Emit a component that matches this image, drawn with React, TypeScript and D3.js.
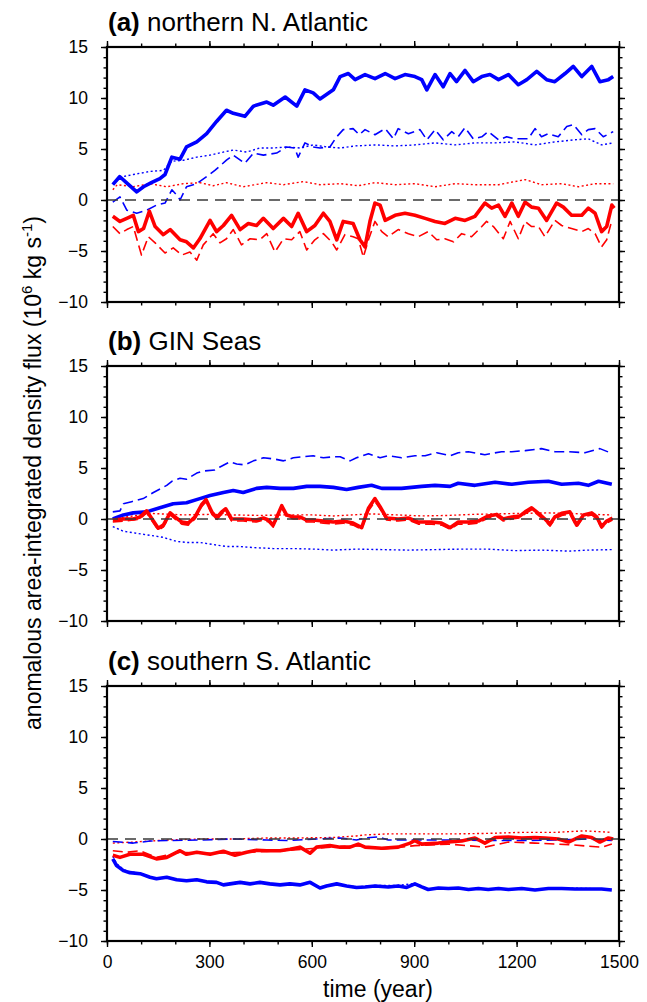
import React, { useRef, useEffect } from 'react';
import * as d3 from 'd3';

type Pt = [number, number];

// ---- (a) northern N. Atlantic : [year, flux] ----
const aBlueSolid: Pt[] = [[17,1.5],[37,2.3],[60,1.6],[87,0.8],[107,1.3],[130,1.7],[155,2.1],[170,2.5],[190,4.2],[214,4.0],[233,5.2],[263,5.7],[292,6.5],[321,7.7],[350,8.8],[370,8.5],[404,8.2],[429,9.2],[468,9.6],[487,9.3],[522,10.1],[556,9.2],[580,10.8],[604,10.5],[624,9.9],[663,10.8],[683,12.1],[707,12.4],[727,11.8],[756,12.3],[785,11.9],[815,12.4],[844,11.9],[873,12.3],[902,12.1],[922,11.8],[937,10.8],[961,12.3],[985,11.1],[1005,12.4],[1024,11.6],[1049,12.7],[1073,11.6],[1098,12.1],[1122,12.3],[1147,11.8],[1176,12.3],[1205,11.3],[1230,11.8],[1259,12.6],[1288,11.8],[1312,11.6],[1342,12.4],[1366,13.1],[1391,12.1],[1420,13.1],[1444,11.6],[1469,11.8],[1483,12.1]];
const aBlueDashed: Pt[] = [[17,-0.2],[38,0.3],[58,-1.0],[87,-1.3],[116,-1.0],[145,-0.5],[170,-0.3],[190,1.0],[209,0.3],[214,0.0],[233,1.3],[263,1.6],[292,2.3],[316,2.9],[350,3.9],[370,4.4],[404,3.6],[429,4.6],[458,4.4],[497,4.6],[526,5.2],[550,5.1],[560,4.2],[580,5.6],[604,5.2],[624,5.1],[653,5.2],[673,6.2],[692,6.9],[721,7.0],[739,6.4],[756,6.9],[785,6.4],[815,7.0],[839,6.0],[853,7.0],[883,6.5],[917,6.9],[937,5.9],[961,6.9],[985,5.9],[1010,6.7],[1029,6.2],[1049,7.1],[1073,6.0],[1098,6.2],[1117,6.7],[1147,5.9],[1171,6.2],[1195,6.0],[1234,6.0],[1254,7.0],[1273,6.2],[1293,6.5],[1322,6.2],[1347,7.2],[1366,7.4],[1391,6.4],[1410,6.9],[1430,7.0],[1454,6.2],[1483,6.7]];
const aBlueDotted: Pt[] = [[17,1.6],[48,2.3],[77,2.5],[126,2.8],[165,2.9],[190,3.8],[224,3.9],[263,4.2],[302,4.4],[341,4.7],[370,4.9],[409,4.7],[448,5.1],[487,5.1],[526,5.2],[565,5.1],[604,5.4],[644,5.2],[683,5.1],[727,5.3],[785,5.4],[844,5.3],[902,5.4],[961,5.6],[1020,5.4],[1078,5.6],[1137,5.6],[1195,5.7],[1254,5.4],[1312,5.7],[1371,5.9],[1410,6.0],[1449,5.4],[1483,5.6]];
const aRedSolid: Pt[] = [[17,-1.6],[38,-2.1],[58,-1.8],[77,-1.5],[92,-3.1],[107,-2.8],[124,-1.1],[141,-2.6],[165,-3.4],[185,-2.9],[214,-3.9],[233,-4.1],[253,-4.7],[272,-3.8],[302,-2.0],[321,-3.1],[341,-2.5],[365,-1.5],[390,-2.9],[414,-2.3],[438,-2.5],[458,-1.8],[487,-2.8],[517,-1.8],[541,-2.6],[560,-1.3],[585,-3.1],[609,-2.5],[634,-1.3],[653,-2.1],[673,-3.9],[692,-2.1],[721,-2.3],[741,-3.9],[756,-4.6],[771,-2.0],[785,-0.3],[800,-0.5],[815,-2.0],[844,-1.5],[873,-1.3],[902,-1.5],[932,-1.8],[961,-2.1],[990,-2.3],[1020,-1.8],[1049,-2.0],[1078,-1.6],[1107,-0.3],[1127,-0.8],[1147,-0.5],[1166,-1.6],[1186,-0.3],[1205,-1.6],[1225,-0.2],[1244,-0.7],[1264,-0.8],[1288,-2.0],[1317,-0.3],[1337,-0.7],[1361,-1.5],[1391,-1.5],[1410,-0.8],[1430,-1.3],[1449,-3.1],[1464,-2.6],[1479,-0.5],[1486,-0.8]];
const aRedDashed: Pt[] = [[17,-2.6],[38,-3.3],[58,-2.9],[77,-2.6],[101,-5.4],[121,-3.6],[141,-4.2],[170,-5.2],[194,-4.7],[219,-5.4],[243,-5.1],[263,-5.9],[282,-4.4],[311,-3.3],[331,-4.2],[350,-3.8],[370,-2.9],[394,-4.4],[419,-3.8],[448,-3.9],[468,-3.3],[492,-5.1],[517,-3.8],[541,-3.9],[565,-3.1],[585,-4.9],[609,-3.9],[634,-3.3],[658,-4.1],[673,-4.9],[697,-3.4],[721,-3.6],[736,-3.8],[751,-5.6],[766,-3.9],[785,-2.1],[805,-3.1],[824,-3.6],[853,-2.9],[883,-3.3],[912,-3.6],[941,-3.1],[966,-3.9],[990,-3.8],[1015,-4.1],[1039,-3.3],[1068,-3.6],[1098,-2.6],[1112,-2.1],[1132,-2.6],[1161,-3.8],[1181,-2.1],[1205,-3.8],[1225,-2.1],[1244,-2.6],[1264,-2.6],[1283,-3.6],[1312,-2.0],[1332,-2.5],[1361,-2.8],[1391,-3.1],[1410,-2.8],[1430,-3.3],[1449,-4.6],[1464,-3.9],[1479,-2.0]];
const aRedDotted: Pt[] = [[17,1.0],[30,1.5],[77,1.3],[126,1.6],[175,1.3],[224,1.6],[272,1.7],[311,1.4],[350,1.7],[399,1.3],[468,1.7],[517,1.5],[575,1.8],[624,1.5],[683,1.6],[736,1.4],[785,1.7],[844,1.5],[902,1.6],[961,1.3],[1020,1.6],[1078,1.5],[1147,1.5],[1225,2.0],[1273,1.5],[1332,1.6],[1381,1.3],[1430,1.6],[1483,1.6]];

// ---- (b) GIN Seas ----
const bBlueSolid: Pt[] = [[17,0.0],[48,0.4],[77,0.6],[116,0.7],[155,1.1],[194,1.5],[233,1.6],[272,2.0],[302,2.3],[341,2.6],[370,2.8],[399,2.6],[438,3.0],[468,3.1],[507,3.0],[546,3.0],[585,3.2],[624,3.2],[663,3.1],[702,2.9],[736,3.1],[775,3.3],[805,3.0],[863,3.0],[922,3.2],[961,3.3],[1005,3.2],[1029,3.5],[1078,3.3],[1137,3.6],[1186,3.4],[1234,3.6],[1293,3.7],[1332,3.4],[1381,3.5],[1410,3.3],[1440,3.7],[1479,3.4]];
const bBlueDashed: Pt[] = [[17,0.7],[38,0.8],[48,1.5],[72,1.7],[106,2.0],[136,2.6],[175,3.3],[190,3.7],[214,4.0],[233,3.9],[263,4.5],[282,4.7],[316,4.8],[331,5.1],[360,5.6],[380,5.4],[404,5.3],[429,5.7],[458,6.0],[487,5.9],[517,5.7],[546,6.0],[575,6.1],[604,6.2],[634,6.0],[663,6.1],[683,6.1],[712,5.7],[731,6.0],[766,6.4],[800,6.0],[824,6.2],[863,6.0],[902,6.2],[932,6.2],[966,6.5],[1005,6.2],[1029,6.5],[1059,6.6],[1107,6.3],[1156,6.6],[1186,6.6],[1225,6.7],[1273,6.9],[1312,6.6],[1352,6.6],[1400,6.5],[1444,6.9],[1474,6.5]];
const bBlueDotted: Pt[] = [[17,-0.75],[48,-1.2],[87,-1.4],[126,-1.6],[165,-1.8],[204,-2.2],[233,-2.3],[272,-2.3],[311,-2.5],[350,-2.7],[390,-2.7],[429,-2.8],[487,-2.9],[546,-2.9],[604,-2.95],[663,-3.05],[731,-2.95],[805,-3.0],[883,-3.05],[961,-3.0],[1039,-2.95],[1117,-2.95],[1195,-3.1],[1273,-3.05],[1352,-3.15],[1410,-3.05],[1479,-3.0]];
const bRedSolid: Pt[] = [[17,-0.1],[48,0],[77,0],[97,0.2],[116,0.8],[136,-0.2],[150,-0.9],[165,-0.6],[185,0.6],[199,0.2],[219,-0.3],[238,-0.4],[258,0.2],[277,1.4],[290,1.9],[307,0.7],[321,0.1],[336,0.7],[348,1.0],[365,0],[399,0],[438,-0.1],[458,0.1],[473,-0.1],[487,-0.6],[512,1.3],[526,0.4],[546,0.2],[565,0.2],[585,-0.1],[604,-0.1],[634,-0.2],[663,-0.3],[692,-0.2],[721,-0.4],[746,-0.85],[766,1.05],[785,2.0],[800,1.2],[819,0.1],[853,0],[883,0.1],[912,-0.3],[951,-0.3],[980,-0.4],[1005,-0.85],[1029,-0.3],[1059,-0.3],[1088,-0.2],[1117,0.3],[1142,0.45],[1161,0],[1186,0.2],[1210,0.3],[1225,0.7],[1244,1.1],[1264,0.55],[1283,0],[1298,-0.5],[1312,0.2],[1332,0.55],[1356,0.7],[1376,-0.6],[1396,0.4],[1420,0.6],[1435,0.2],[1449,-0.75],[1464,-0.2],[1481,0.1]];
const bRedDashed: Pt[] = [[17,-0.3],[48,-0.2],[77,-0.1],[97,0.0],[116,0.6],[136,-0.4],[150,-1.1],[165,-0.8],[185,0.4],[199,0.0],[219,-0.5],[238,-0.6],[258,0.0],[277,1.2],[290,1.7],[307,0.5],[321,-0.1],[336,0.5],[348,0.8],[365,-0.2],[399,-0.2],[438,-0.3],[458,-0.1],[473,-0.3],[487,-0.8],[512,1.1],[526,0.2],[546,0.0],[565,0.0],[585,-0.3],[604,-0.3],[634,-0.4],[663,-0.5],[692,-0.4],[721,-0.6],[746,-1.0],[766,0.8],[785,1.7],[800,1.0],[819,-0.1],[853,-0.2],[883,-0.1],[912,-0.5],[951,-0.5],[980,-0.6],[1005,-1.0],[1029,-0.5],[1059,-0.5],[1088,-0.4],[1117,0.1],[1142,0.25],[1161,-0.2],[1186,0.0],[1210,0.1],[1225,0.5],[1244,0.9],[1264,0.35],[1283,-0.2],[1298,-0.7],[1312,0.0],[1332,0.35],[1356,0.5],[1376,-0.8],[1396,0.2],[1420,0.4],[1435,0.0],[1449,-0.9],[1464,-0.4],[1481,-0.1]];
const bRedDotted: Pt[] = [[17,0.0],[77,0.3],[126,0.55],[224,0.4],[300,0.45],[370,0.4],[450,0.35],[517,0.4],[600,0.4],[663,0.3],[775,0.5],[850,0.4],[922,0.3],[1000,0.35],[1068,0.45],[1140,0.5],[1215,0.55],[1290,0.6],[1361,0.55],[1420,0.45],[1479,0.4]];

// ---- (c) southern S. Atlantic ----
const cBlueSolid: Pt[] = [[17,-1.95],[28,-2.6],[48,-3.1],[67,-3.3],[97,-3.4],[126,-3.75],[145,-3.9],[175,-3.75],[204,-4.0],[233,-4.1],[263,-4.0],[292,-4.2],[321,-4.25],[341,-4.5],[370,-4.35],[390,-4.25],[419,-4.4],[448,-4.25],[477,-4.4],[507,-4.5],[536,-4.4],[565,-4.5],[595,-4.25],[624,-4.8],[643,-4.6],[673,-4.4],[702,-4.6],[731,-4.75],[756,-4.7],[785,-4.6],[824,-4.7],[853,-4.6],[878,-4.75],[902,-4.4],[922,-4.7],[941,-4.95],[971,-4.8],[1000,-4.85],[1029,-4.8],[1059,-4.95],[1088,-4.85],[1117,-4.95],[1147,-4.85],[1176,-4.95],[1215,-4.85],[1254,-5.0],[1293,-4.85],[1332,-4.85],[1371,-4.9],[1410,-4.9],[1449,-4.9],[1479,-5.0]];
const cBlueDashed: Pt[] = [[17,-0.25],[77,-0.4],[126,-0.2],[175,-0.15],[272,-0.1],[370,0.0],[468,-0.1],[526,-0.15],[614,0.0],[683,0.1],[731,-0.1],[756,0.1],[795,0.2],[824,-0.1],[922,-0.1],[1020,-0.1],[1117,-0.15],[1215,-0.15],[1312,-0.1],[1410,0.0],[1479,-0.15]];
const cBlueDotted: Pt[] = [[17,-1.7],[28,-2.4],[48,-3.0],[67,-3.2],[97,-3.35],[126,-3.7],[145,-3.85],[175,-3.7],[204,-3.95],[233,-4.05],[263,-3.95],[292,-4.15],[321,-4.2],[341,-4.45],[370,-4.3],[390,-4.2],[419,-4.35],[448,-4.2],[477,-4.35],[507,-4.45],[536,-4.35],[565,-4.45],[595,-4.2],[624,-4.75],[643,-4.55],[673,-4.35],[702,-4.55],[731,-4.7],[785,-4.55],[853,-4.55],[902,-4.35],[941,-4.9],[1000,-4.8],[1059,-4.9],[1117,-4.9],[1176,-4.9],[1254,-4.95],[1332,-4.8],[1410,-4.85],[1479,-4.95]];
const cRedSolid: Pt[] = [[17,-1.6],[38,-1.8],[67,-1.5],[106,-1.5],[145,-1.95],[175,-1.8],[214,-1.15],[233,-1.5],[263,-1.3],[302,-1.5],[341,-1.2],[375,-1.6],[409,-1.3],[438,-1.1],[468,-1.15],[507,-1.15],[536,-1.0],[565,-0.8],[595,-1.4],[614,-0.8],[653,-0.65],[683,-0.8],[712,-0.8],[736,-0.5],[756,-0.8],[805,-0.9],[853,-0.8],[888,-0.4],[902,-0.15],[922,-0.5],[971,-0.4],[1000,-0.3],[1039,-0.2],[1078,0.1],[1107,-0.4],[1137,0.15],[1176,0.2],[1215,0.1],[1254,0.15],[1283,0.1],[1322,0.0],[1352,-0.3],[1391,0.3],[1420,0.15],[1444,-0.3],[1469,0.1],[1483,0.0]];
const cRedDashed: Pt[] = [[17,-1.15],[58,-1.3],[97,-1.15],[145,-1.8],[214,-1.3],[302,-1.4],[409,-1.3],[536,-1.1],[614,-0.9],[731,-0.65],[805,-1.0],[902,-0.65],[1000,-0.5],[1107,-0.8],[1176,-0.3],[1254,-0.4],[1352,-0.55],[1449,-0.8],[1479,-0.5]];
const cRedDotted: Pt[] = [[17,-0.4],[77,-0.3],[175,-0.1],[272,0.0],[370,0.0],[468,0.1],[565,0.1],[663,0.15],[731,0.3],[756,0.4],[824,0.5],[922,0.5],[1020,0.5],[1117,0.55],[1215,0.65],[1312,0.65],[1400,0.8],[1479,0.65]];

const panelLabels = ['(a)', '(b)', '(c)'];
const panelNames = ['northern N. Atlantic', 'GIN Seas', 'southern S. Atlantic'];
const yMajor = [-10, -5, 0, 5, 10, 15];
const xMajor = [0, 300, 600, 900, 1200, 1500];

const FONT = '"Liberation Sans", Arial, Helvetica, sans-serif';
const W = 647, H = 1002;
const left = 107, right = 619;
const panelTops = [47, 366, 686];
const panelH = 255;

const App = () => {
  const svgRef = useRef<SVGSVGElement>(null);

  useEffect(() => {
    const svg = d3.select(svgRef.current);
    svg.selectAll('*').remove();

    const x = d3.scaleLinear().domain([0, 1500]).range([left, right]);
    const xMinor = d3.range(0, 1501, 100);
    const yMinor = d3.range(-10, 16, 1);

    const styles = [
      { color: '#0000ff', width: 1.4, dash: '2,2.5' },   // dotted
      { color: '#ff0000', width: 1.4, dash: '2,2.5' },
      { color: '#0000ff', width: 1.6, dash: '10,5' },    // dashed
      { color: '#ff0000', width: 1.6, dash: '10,5' },
      { color: '#0000ff', width: 3.6, dash: null },      // solid
      { color: '#ff0000', width: 3.6, dash: null },
    ];
    const allSeries = [
      [aBlueDotted, aRedDotted, aBlueDashed, aRedDashed, aBlueSolid, aRedSolid],
      [bBlueDotted, bRedDotted, bBlueDashed, bRedDashed, bBlueSolid, bRedSolid],
      [cBlueDotted, cRedDotted, cBlueDashed, cRedDashed, cBlueSolid, cRedSolid],
    ];

    panelTops.forEach((top, p) => {
      const y = d3.scaleLinear().domain([-10, 15]).range([top + panelH, top]);
      const g = svg.append('g');

      // title
      const title = g.append('text')
        .attr('x', left + 1).attr('y', top - 16)
        .attr('font-family', FONT).attr('font-size', 26);
      title.append('tspan').attr('font-weight', 'bold').text(panelLabels[p]);
      title.append('tspan').text(' ' + panelNames[p]);

      // series
      const line = d3.line<Pt>().x(d => x(d[0])).y(d => y(d[1]));
      allSeries[p].forEach((data, i) => {
        const s = styles[i];
        g.append('path')
          .datum(data)
          .attr('fill', 'none')
          .attr('stroke', s.color)
          .attr('stroke-width', s.width)
          .attr('stroke-linejoin', 'round')
          .attr('stroke-dasharray', s.dash)
          .attr('d', line);
      });

      // zero line
      g.append('line')
        .attr('x1', left).attr('x2', right)
        .attr('y1', y(0)).attr('y2', y(0))
        .attr('stroke', '#3a3a3a').attr('stroke-width', 1.6)
        .attr('stroke-dasharray', '11,7');

      // ticks on all sides, outward
      const addAxis = (axis: any, tx: number, ty: number) => {
        const ag = g.append('g').attr('transform', `translate(${tx},${ty})`).call(axis);
        ag.select('.domain').remove();
        ag.selectAll('line').attr('stroke', '#000').attr('stroke-width', 1.4);
        ag.selectAll('text').attr('font-family', FONT).attr('font-size', 17.5).attr('fill', '#000');
        return ag;
      };
      const noLab = () => '';
      addAxis(d3.axisLeft(y).tickValues(yMinor).tickSize(3.5).tickFormat(noLab), left, 0);
      addAxis(d3.axisRight(y).tickValues(yMinor).tickSize(3.5).tickFormat(noLab), right, 0);
      addAxis(d3.axisTop(x).tickValues(xMinor).tickSize(3.5).tickFormat(noLab), 0, top);
      addAxis(d3.axisBottom(x).tickValues(xMinor).tickSize(3.5).tickFormat(noLab), 0, top + panelH);
      addAxis(d3.axisLeft(y).tickValues(yMajor).tickSize(6).tickPadding(13), left, 0);
      addAxis(d3.axisRight(y).tickValues(yMajor).tickSize(6).tickFormat(noLab), right, 0);
      addAxis(d3.axisTop(x).tickValues(xMajor).tickSize(6).tickFormat(noLab), 0, top);
      addAxis(d3.axisBottom(x).tickValues(xMajor).tickSize(6).tickPadding(9)
        .tickFormat(p === 2 ? d3.format('d') : noLab), 0, top + panelH);

      // frame
      g.append('rect')
        .attr('x', left).attr('y', top)
        .attr('width', right - left).attr('height', panelH)
        .attr('fill', 'none').attr('stroke', '#000').attr('stroke-width', 2.2);
    });

    // axis titles
    svg.append('text')
      .attr('x', 378).attr('y', 997)
      .attr('text-anchor', 'middle')
      .attr('font-family', FONT).attr('font-size', 23)
      .text('time (year)');

    const yl = svg.append('text')
      .attr('transform', 'translate(41,473) rotate(-90)')
      .attr('text-anchor', 'middle')
      .attr('font-family', FONT).attr('font-size', 23);
    yl.append('tspan').text('anomalous area-integrated density flux (10');
    yl.append('tspan').attr('font-size', 15).attr('dy', -9).text('6');
    yl.append('tspan').attr('dy', 9).text(' kg s');
    yl.append('tspan').attr('font-size', 15).attr('dy', -9).text('-1');
    yl.append('tspan').attr('dy', 9).text(')');
  }, []);

  return (
    <svg ref={svgRef} width={W} height={H}
      style={{ position: 'absolute', left: 0, top: 0, background: '#fff' }} />
  );
};

export default App;
